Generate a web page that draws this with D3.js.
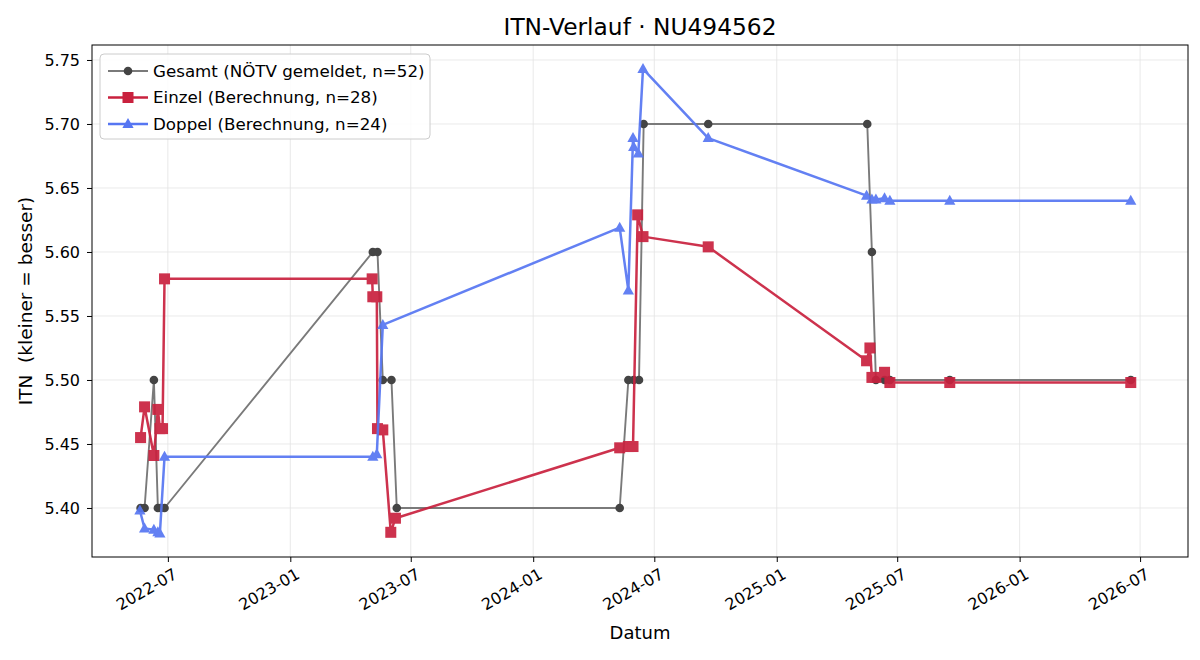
<!DOCTYPE html>
<html>
<head>
<meta charset="utf-8">
<script src="https://cdn.jsdelivr.net/npm/d3@7"></script>
<style>
  body { margin: 0; background: #fff; }
  text { font-family: "DejaVu Sans", sans-serif; fill: #000; }
</style>
</head>
<body>
<div id="chart"></div>
<script>
// Gesamt (NÖTV gemeldet)
const gesamtDates = ['2022-05-21','2022-05-27','2022-06-10','2022-06-16','2022-06-20','2022-06-26',
  '2023-05-05','2023-05-12','2023-05-20','2023-06-02','2023-06-10',
  '2024-05-10','2024-05-23','2024-05-31','2024-06-08','2024-06-15','2024-09-20',
  '2025-05-17','2025-05-24','2025-05-30','2025-06-12','2025-06-20','2025-09-18','2026-06-17']
const gesamtValues = [5.40, 5.40, 5.50, 5.40, 5.40, 5.40,
  5.60, 5.60, 5.50, 5.50, 5.40,
  5.40, 5.50, 5.50, 5.50, 5.70, 5.70,
  5.70, 5.60, 5.50, 5.50, 5.50, 5.50, 5.50]

// Einzel (Berechnung)
const einzelDates = ['2022-05-21','2022-05-27','2022-06-10','2022-06-16','2022-06-19','2022-06-23','2022-06-26',
  '2023-05-04','2023-05-05','2023-05-11','2023-05-12','2023-05-20','2023-06-01','2023-06-08',
  '2024-05-10','2024-05-23','2024-05-30','2024-06-06','2024-06-14','2024-09-20',
  '2025-05-16','2025-05-21','2025-05-24','2025-05-30','2025-06-12','2025-06-20','2025-09-18','2026-06-17']
const einzelValues = [5.455, 5.479, 5.441, 5.477, 5.462, 5.462, 5.579,
  5.579, 5.565, 5.565, 5.462, 5.461, 5.381, 5.392,
  5.447, 5.448, 5.448, 5.629, 5.612, 5.604,
  5.515, 5.525, 5.502, 5.502, 5.506, 5.498, 5.498, 5.498]

// Doppel (Berechnung)
const doppelDates = ['2022-05-20','2022-05-27','2022-06-10','2022-06-16','2022-06-19','2022-06-26',
  '2023-05-05','2023-05-11','2023-05-20',
  '2024-05-10','2024-05-23','2024-05-30','2024-05-31','2024-06-07','2024-06-14','2024-09-20',
  '2025-05-16','2025-05-24','2025-05-30','2025-06-12','2025-06-20','2025-09-18','2026-06-17']
const doppelValues = [5.398, 5.384, 5.383, 5.381, 5.380, 5.440,
  5.440, 5.442, 5.543,
  5.619, 5.570, 5.689, 5.682, 5.677, 5.743, 5.689,
  5.644, 5.641, 5.641, 5.642, 5.640, 5.640, 5.640]

const yTicks = [5.40, 5.45, 5.50, 5.55, 5.60, 5.65, 5.70, 5.75]
const xTicks = ['2022-07-01','2023-01-01','2023-07-01','2024-01-01','2024-07-01',
  '2025-01-01','2025-07-01','2026-01-01','2026-07-01']

const parse = d3.utcParse('%Y-%m-%d')
const zip = (ds, vs) => ds.map((d, i) => ({ date: parse(d), value: vs[i] }))

const series = [
  { name: 'Gesamt (NÖTV gemeldet, n=52)', data: zip(gesamtDates, gesamtValues),
    line: '#7a7a7a', fill: '#444444', width: 1.9, marker: 'circle' },
  { name: 'Einzel (Berechnung, n=28)', data: zip(einzelDates, einzelValues),
    line: '#c9213e', fill: '#c9213e', width: 2.5, marker: 'square' },
  { name: 'Doppel (Berechnung, n=24)', data: zip(doppelDates, doppelValues),
    line: '#5676f2', fill: '#5676f2', width: 2.5, marker: 'triangle' }
]

const width = 1200, height = 660
const margin = { top: 45, right: 12, bottom: 103, left: 92 }

const svg = d3.select('#chart').append('svg')
  .attr('width', width)
  .attr('height', height)

const x = d3.scaleUtc()
  .domain([parse('2022-03-09'), parse('2026-09-11')])
  .range([margin.left, width - margin.right])

const y = d3.scaleLinear()
  .domain([5.3617, 5.7617])
  .range([height - margin.bottom, margin.top])

// grid
svg.append('g')
  .selectAll('line')
  .data(xTicks.map(parse))
  .join('line')
  .attr('x1', d => x(d)).attr('x2', d => x(d))
  .attr('y1', margin.top).attr('y2', height - margin.bottom)
  .attr('stroke', '#e3e3e3').attr('stroke-width', 0.8)

svg.append('g')
  .selectAll('line')
  .data(yTicks)
  .join('line')
  .attr('x1', margin.left).attr('x2', width - margin.right)
  .attr('y1', d => y(d)).attr('y2', d => y(d))
  .attr('stroke', '#e3e3e3').attr('stroke-width', 0.8)

// axes
const xAxis = svg.append('g')
  .attr('transform', `translate(0,${height - margin.bottom})`)
  .call(d3.axisBottom(x).tickValues(xTicks.map(parse)).tickFormat(d3.utcFormat('%Y-%m')).tickSize(5).tickSizeOuter(0))
xAxis.select('.domain').remove()
xAxis.selectAll('text')
  .attr('font-size', 16)
  .attr('text-anchor', 'end')
  .attr('dy', null)
  .attr('transform', 'translate(4,10) rotate(-30)')
  .attr('y', 0)
  .attr('x', 0)
  .attr('dominant-baseline', 'hanging')

const yAxis = svg.append('g')
  .attr('transform', `translate(${margin.left},0)`)
  .call(d3.axisLeft(y).tickValues(yTicks).tickFormat(d3.format('.2f')).tickSize(5).tickPadding(7).tickSizeOuter(0))
yAxis.select('.domain').remove()
yAxis.selectAll('text').attr('font-size', 16)

svg.append('rect')
  .attr('x', margin.left).attr('y', margin.top)
  .attr('width', width - margin.left - margin.right)
  .attr('height', height - margin.top - margin.bottom)
  .attr('fill', 'none').attr('stroke', '#000').attr('stroke-width', 1)

const line = d3.line().x(d => x(d.date)).y(d => y(d.value))

function drawMarker(sel, type, color) {
  if (type === 'circle') {
    sel.append('circle').attr('r', 4.3).attr('fill', color)
  } else if (type === 'square') {
    sel.append('rect').attr('x', -5.5).attr('y', -5.5).attr('width', 11).attr('height', 11).attr('fill', color)
  } else {
    sel.append('path').attr('d', 'M0,-6 L5.6,4 L-5.6,4 Z').attr('fill', color)
  }
}

series.forEach(s => {
  const g = svg.append('g').attr('opacity', s.marker === 'circle' ? 1 : 0.92)
  g.append('path')
    .datum(s.data)
    .attr('d', line)
    .attr('fill', 'none')
    .attr('stroke', s.line)
    .attr('stroke-width', s.width)
    .attr('stroke-linejoin', 'round')
  g.selectAll('.pt')
    .data(s.data)
    .join('g')
    .attr('class', 'pt')
    .attr('transform', d => `translate(${x(d.date)},${y(d.value)})`)
    .each(function () { drawMarker(d3.select(this), s.marker, s.fill) })
})

// legend
const legend = svg.append('g').attr('transform', 'translate(100,54)')
legend.append('rect')
  .attr('width', 330).attr('height', 85)
  .attr('rx', 4)
  .attr('fill', '#fff').attr('fill-opacity', 0.85)
  .attr('stroke', '#cccccc')
series.forEach((s, i) => {
  const row = legend.append('g').attr('transform', `translate(0,${17 + i * 26.5})`)
  row.append('line')
    .attr('x1', 8).attr('x2', 48)
    .attr('stroke', s.line).attr('stroke-width', s.width)
  const m = row.append('g').attr('transform', 'translate(28,0)')
  drawMarker(m, s.marker, s.fill)
  row.append('text')
    .attr('x', 53).attr('dy', '0.35em')
    .attr('font-size', 16.7)
    .text(s.name)
})

// titles
svg.append('text')
  .attr('x', margin.left + (width - margin.left - margin.right) / 2)
  .attr('y', 35)
  .attr('text-anchor', 'middle')
  .attr('font-size', 23.3)
  .text('ITN-Verlauf · NU494562')

svg.append('text')
  .attr('x', margin.left + (width - margin.left - margin.right) / 2)
  .attr('y', 639)
  .attr('text-anchor', 'middle')
  .attr('font-size', 18)
  .text('Datum')

svg.append('text')
  .attr('transform', `translate(32,${margin.top + (height - margin.top - margin.bottom) / 2}) rotate(-90)`)
  .attr('text-anchor', 'middle')
  .attr('font-size', 18.5)
  .style('white-space', 'pre')
  .text('ITN  (kleiner = besser)')
</script>
</body>
</html>
